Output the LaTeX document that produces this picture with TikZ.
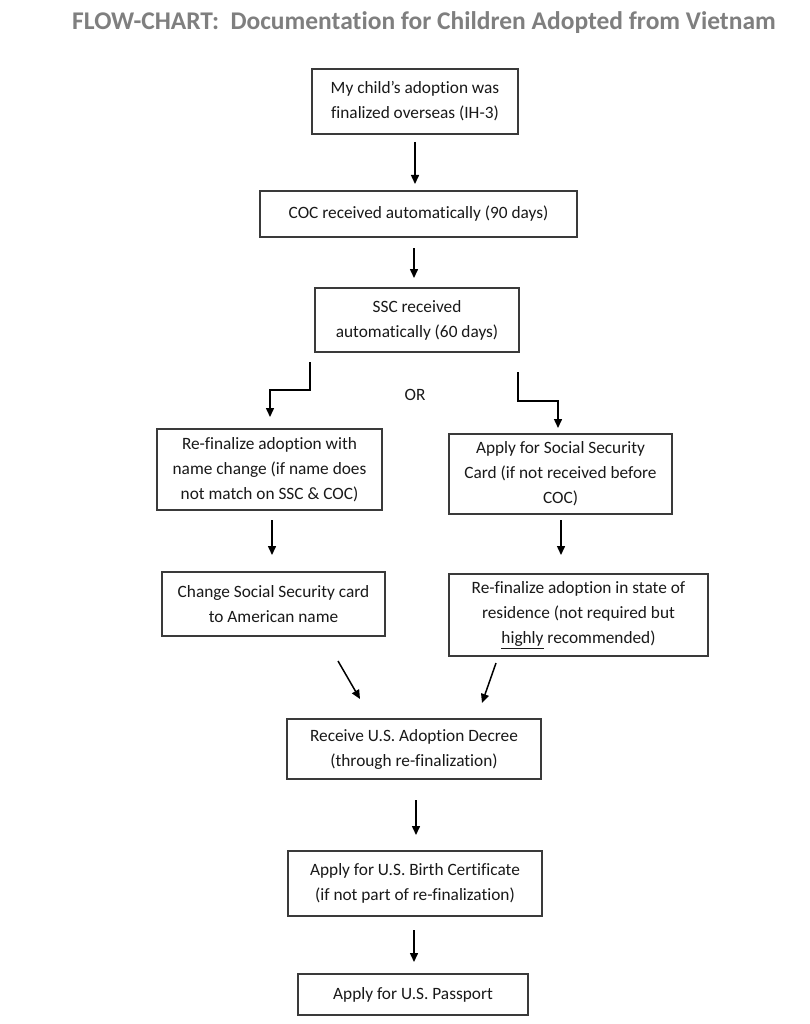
\documentclass[tikz,border=0pt]{standalone}
\usepackage{fontspec}
\setmainfont[Ligatures=NoCommon]{Carlito}
\usetikzlibrary{arrows.meta}
\definecolor{titlegray}{HTML}{7F7F7F}
\definecolor{boxline}{HTML}{3A3A3A}
\tikzset{
  box/.style={draw=boxline, line width=1.3pt, fill=white, align=center, inner sep=0pt, outer sep=0pt,
    text=black!90, font=\fontsize{17.3}{25}\selectfont},
  arr/.style={draw=black, line width=1.5pt, -{Triangle[width=8pt,length=9pt]}},
  lbl/.style={font=\fontsize{17.3}{25}\selectfont, inner sep=0pt, text=black!90},
}
\begin{document}
\begin{tikzpicture}[x=1pt,y=-1pt]
\useasboundingbox (0,0) rectangle (809,1024);
\node[anchor=base, text=titlegray, inner sep=0pt, font=\bfseries\fontsize{25.5}{30}\selectfont] (title) at (424,30) {FLOW-CHART:~ Documentation for Children Adopted from Vietnam};

\node[box, minimum width=206pt, minimum height=65pt] (b1) at (415,101.5) {My child’s adoption was\\finalized overseas (IH-3)};
\node[box, minimum width=317pt, minimum height=46pt] (b2) at (418.5,214) {COC received automatically (90 days)};
\node[box, minimum width=204pt, minimum height=64pt] (b3) at (417,320) {SSC received\\automatically (60 days)};
\node[box, minimum width=225pt, minimum height=81pt] (b4) at (269.5,469.5) {Re-finalize adoption with\\name change (if name does\\not match on SSC \& COC)};
\node[box, minimum width=223pt, minimum height=80pt] (b5) at (560.5,474) {Apply for Social Security\\Card (if not received before\\COC)};
\node[box, minimum width=223pt, minimum height=64pt] (b6) at (273.5,604) {Change Social Security card\\to American name};
\node[box, minimum width=259pt, minimum height=82pt] (b7) at (578.5,615) {Re-finalize adoption in state of\\residence (not required but\\\underline{highly} recommended)};
\node[box, minimum width=254pt, minimum height=60pt] (b8) at (414,749) {Receive U.S. Adoption Decree\\(through re-finalization)};
\node[box, minimum width=254pt, minimum height=65pt] (b9) at (415,883.5) {Apply for U.S. Birth Certificate\\(if not part of re-finalization)};
\node[box, minimum width=230pt, minimum height=41pt] (b10) at (413,994.5) {Apply for U.S. Passport};

\node[lbl] (or) at (415,395) {OR};

% arrow end points
\coordinate (a1s) at (415,142); \coordinate (a1e) at (415,184);
\coordinate (a2s) at (414,248); \coordinate (a2e) at (414,278);
\coordinate (l1) at (310,362); \coordinate (l2) at (310,390); \coordinate (l3) at (270,390); \coordinate (l4) at (270,417);
\coordinate (r1) at (518,372); \coordinate (r2) at (518,401); \coordinate (r3) at (558,401); \coordinate (r4) at (558,428);
\coordinate (a4s) at (272,520); \coordinate (a4e) at (272,555);
\coordinate (a5s) at (561,520); \coordinate (a5e) at (561,555);
\coordinate (d1s) at (338,661); \coordinate (d1e) at (360,699);
\coordinate (d2s) at (496,663); \coordinate (d2e) at (482,703);
\coordinate (a8s) at (416,800); \coordinate (a8e) at (416,835);
\coordinate (a9s) at (414,930); \coordinate (a9e) at (414,962);

\draw[arr] (a1s) -- (a1e);
\draw[arr] (a2s) -- (a2e);
\draw[arr] (l1) -- (l2) -- (l3) -- (l4);
\draw[arr] (r1) -- (r2) -- (r3) -- (r4);
\draw[arr] (a4s) -- (a4e);
\draw[arr] (a5s) -- (a5e);
\draw[arr] (d1s) -- (d1e);
\draw[arr] (d2s) -- (d2e);
\draw[arr] (a8s) -- (a8e);
\draw[arr] (a9s) -- (a9e);
\end{tikzpicture}
\end{document}
